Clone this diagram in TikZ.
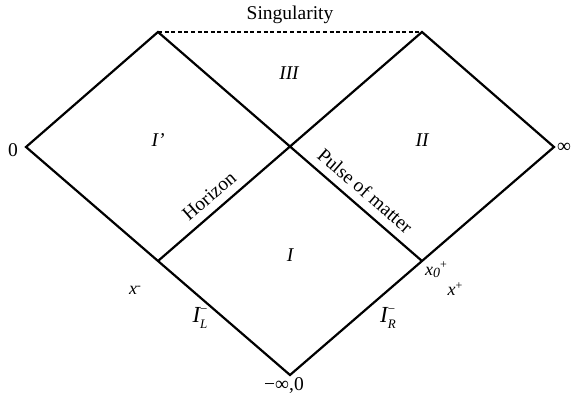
\documentclass[tikz,border=0pt]{standalone}
\usepackage{fontspec}
\setmainfont{Liberation Serif}
\begin{document}
\begin{tikzpicture}[x=1pt,y=-1pt,
  edge/.style={line width=2.2pt},
  sing/.style={line width=1.5pt, dash pattern=on 4pt off 2.6pt},
  lbl/.style={font=\fontsize{19.5}{22}\selectfont, inner sep=0pt},
  reg/.style={font=\fontsize{19.5}{22}\selectfont\itshape, inner sep=0pt},
  coord/.style={font=\fontsize{18}{20}\selectfont\itshape, inner sep=0pt},
  scri/.style={font=\fontsize{23}{25}\selectfont\itshape, inner sep=0pt}]
\useasboundingbox (0,0) rectangle (571,398);
\coordinate (L) at (26,147);
\coordinate (TL) at (158,32);
\coordinate (C) at (290,147);
\coordinate (TR) at (422,32);
\coordinate (R) at (554,147);
\coordinate (LL) at (158,261);
\coordinate (LR) at (422,261);
\coordinate (B) at (290,375);
\draw[edge] (LR) -- (TL) -- (L) -- (B) -- (R) -- (TR) -- (LL);
\draw[sing] (TL) -- (TR);
\node[lbl] (sg) at (290,15) {Singularity};
\node[lbl] (zero) at (13,150) {0};
\node[lbl, anchor=west] (inf) at (557,148) {∞};
\node[lbl] (minf) at (284,386) {−∞,0};
\node[reg] (r3) at (289,73) {III};
\node[reg] (r1p) at (158,140) {I’};
\node[reg] (r2) at (422,140) {II};
\node[reg] (r1) at (290,255) {I};
\path (LL) -- (C) node[lbl, pos=.465, sloped, above=9pt] (hz) {Horizon};
\path (C) -- (LR) node[lbl, pos=.49, sloped, above=9pt] (pm) {Pulse of matter};
\node[coord] (xm) at (135,290) {x\raisebox{5pt}{\fontsize{12}{12}\selectfont\upshape -}};
\node[coord] (xp) at (455,289) {x\raisebox{6pt}{\fontsize{12}{12}\selectfont\upshape +}};
\node[coord] (x0) at (436,270) {x\raisebox{-2pt}{\fontsize{14}{14}\selectfont 0}\raisebox{7pt}{\fontsize{12}{12}\selectfont\upshape +}};
\node[scri] (IL) at (200,318) {I\makebox[0pt][l]{\raisebox{9pt}{\fontsize{13}{13}\selectfont\upshape −}}\raisebox{-6pt}{\fontsize{13}{13}\selectfont L}};
\node[scri] (IR) at (388,318) {I\makebox[0pt][l]{\raisebox{9pt}{\fontsize{13}{13}\selectfont\upshape −}}\raisebox{-6pt}{\fontsize{13}{13}\selectfont R}};
\end{tikzpicture}
\end{document}
